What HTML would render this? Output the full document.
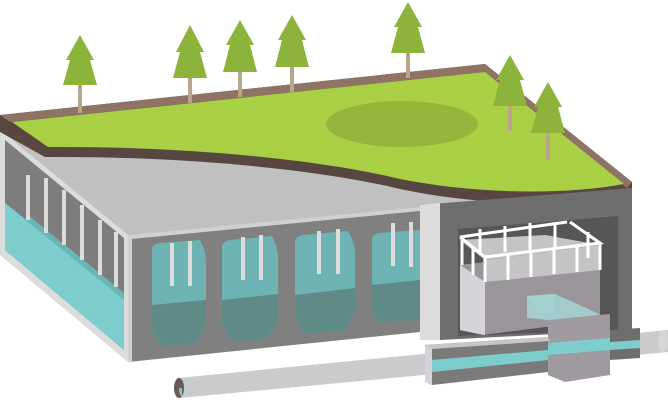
<!DOCTYPE html>
<html><head><meta charset="utf-8"><style>html,body{margin:0;padding:0;background:#fff}svg{display:block}</style></head>
<body>
<svg width="668" height="403" viewBox="0 0 668 403" xmlns="http://www.w3.org/2000/svg">
<path d="M178,378 L668,330 L668,352 L180,398 Z" fill="#c9cbcc"/>
<ellipse cx="179" cy="388" rx="5" ry="10" fill="#6a5a55"/>
<path d="M179,388 A5,10 0 0 0 182,397 L182,388 Z" fill="#7ecdcd"/>
<ellipse cx="663" cy="341" rx="5" ry="11" fill="#d4d6d7"/>
<path d="M0,130 L128,235 L128,362 L0,255 Z" fill="#dcdcdc"/>
<path d="M5,140 L124,238 L124,350 L5,250 Z" fill="#7d7d7d"/>
<path d="M5,203 L124,298 L124,350 L5,250 Z" fill="#7ecdcd"/>
<path d="M28,215 L124,293 L124,300 L28,222Z" fill="#6bb5b5"/>
<g fill="#dcdcdc">
<rect x="26" y="175" width="4" height="45"/><rect x="44" y="178" width="4" height="55"/>
<rect x="62" y="190" width="4" height="55"/><rect x="80" y="205" width="4" height="55"/>
<rect x="98" y="220" width="4" height="55"/><rect x="114" y="232" width="4" height="55"/>
</g>
<path d="M0,118 L485,66 L632,185 L632,196 L420,207 L128,235 L0,130 Z" fill="#c0c0c0"/>
<path d="M0,115 L485,64 L632,182 L632,198 C560,208 470,204 400,189 C330,172 200,156 45,157 L0,132 Z" fill="#574740"/>
<path d="M0,115 L485,64 L632,182 L627,188 L485,72 L10,122 Z" fill="#8f7466"/>
<path d="M12,122 L485,72 L624,184 C560,196 470,193 400,179 C330,162 200,146 48,147 Z" fill="#a9cf45"/>
<ellipse cx="402" cy="124" rx="76" ry="23" fill="#95b43a"/>
<path d="M128,235 L420,207 L420,332 L128,362 Z" fill="#808080"/>
<path d="M128,235 L420,207 L420,211 L132,239 L132,362 L128,362Z" fill="#d0d0d0"/>
<g>
<path d="M152,250 Q152,244 160,243 L200,240 Q206,252 206,262 L206,325 L196,343 L162,347 L152,330 Z" fill="#6db3b2"/>
<path d="M152,305 L206,300 L206,325 L196,343 L162,347 L152,330 Z" fill="#5f8a88"/>
<path d="M222,248 Q222,241 230,240 L272,236 Q278,248 278,258 L278,320 L268,338 L232,341 L222,325 Z" fill="#6db3b2"/>
<path d="M222,300 L278,294 L278,320 L268,338 L232,341 L222,325 Z" fill="#5f8a88"/>
<path d="M295,243 Q295,236 303,235 L348,231 Q355,243 355,253 L355,314 L345,330 L305,334 L295,318 Z" fill="#6db3b2"/>
<path d="M295,295 L355,288 L355,314 L345,330 L305,334 L295,318 Z" fill="#5f8a88"/>
<path d="M372,240 Q372,234 380,233 L420,230 L420,320 L378,323 L372,310 Z" fill="#6db3b2"/>
<path d="M372,285 L420,280 L420,320 L378,323 L372,310 Z" fill="#5f8a88"/>
<rect x="420" y="230" width="15" height="95" fill="#7ecdcd"/>
</g>
<g fill="#dcdcdc">
<rect x="170" y="243" width="4" height="43"/><rect x="188" y="241" width="4" height="45"/>
<rect x="241" y="237" width="4" height="43"/><rect x="259" y="235" width="4" height="45"/>
<rect x="317" y="231" width="4" height="43"/><rect x="336" y="229" width="4" height="45"/>
<rect x="391" y="223" width="4" height="43"/><rect x="409" y="222" width="4" height="45"/>
</g>
<path d="M420,205 L632,188 L632,330 L440,340 L420,340 Z" fill="#6e6e6e"/>
<path d="M420,205 L440,203 L440,340 L420,340 Z" fill="#dcdcdc"/>
<path d="M458,229 L618,216 L618,330 L458,336 Z" fill="#565656"/>
<path d="M460,265 L545,255 L600,245 L600,320 L482,335 L460,330 Z" fill="#9a959b"/>
<path d="M460,265 L485,282 L485,335 L460,330 Z" fill="#d6d2da"/>
<path d="M460,240 L545,235 L600,245 L485,260 Z" fill="#c4c4c4"/>
<path d="M485,260 L600,245 L600,270 L485,282 Z" fill="#c4c4c4"/>
<g stroke="#fff" stroke-width="3" fill="none">
<path d="M460,237 L485,257 L600,243 L570,222"/>
<path d="M460,237 L567,222"/>
<path d="M462,238 V265 M473,247 V275 M485,257 V282 M508,254 V280 M531,251 V277 M554,248 V274 M577,246 V272 M600,243 V270 M588,232 V258 M530,223 V250 M505,226 V252 M480,229 V255 M555,222 V248"/>
</g>
<path d="M527,296 L555,294 L555,313 L540,313 Z" fill="#a6d6d5"/>
<path d="M527,296 L555,294 L595,312 L610,320 L610,375 L565,380 L548,365 L548,320 L527,318 Z" fill="#a4d0d0" opacity="0.9"/>
<path d="M548,320 L610,314 L610,375 L565,382 L548,375 Z" fill="#9e9aa0"/>
<path d="M548,343 L610,338 L610,350 L548,355 Z" fill="#7ecdcd"/>
<path d="M610,330 L640,328 L640,358 L610,360 Z" fill="#6e6e6e"/>
<path d="M610,342 L640,340 L640,348 L610,350Z" fill="#7ecdcd"/>
<path d="M425,345 L548,337 L548,372 L432,385 L425,382 Z" fill="#7a7a7a"/>
<path d="M425,345 L432,347 L432,385 L425,382Z" fill="#d6d2da"/>
<path d="M432,360 L548,350 L548,360 L432,372 Z" fill="#7ecdcd"/>
<path d="M425,345 L548,337 L550,341 L432,349 Z" fill="#c8c4cc"/>
<g fill="#8db33a">
<path d="M80,35 L94,60 L90,60 L97,85 L63,85 L70,60 L66,60 Z"/>
<path d="M190,25 L204,52 L200,52 L207,78 L173,78 L180,52 L176,52 Z"/>
<path d="M240,20 L254,45 L250,45 L257,72 L223,72 L230,45 L226,45 Z"/>
<path d="M292,15 L306,40 L302,40 L309,67 L275,67 L282,40 L278,40 Z"/>
<path d="M408,2 L422,27 L418,27 L425,53 L391,53 L398,27 L394,27 Z"/>
<path d="M510,55 L524,80 L520,80 L527,106 L493,106 L500,80 L496,80 Z"/>
<path d="M548,82 L562,107 L558,107 L565,133 L531,133 L538,107 L534,107 Z"/>
</g>
<g fill="#b9a58a">
<rect x="78" y="85" width="4" height="28"/><rect x="188" y="78" width="4" height="25"/>
<rect x="238" y="72" width="4" height="25"/><rect x="290" y="67" width="4" height="25"/>
<rect x="406" y="53" width="4" height="25"/><rect x="508" y="106" width="4" height="25"/>
<rect x="546" y="133" width="4" height="27"/>
</g>
</svg>
</body></html>
